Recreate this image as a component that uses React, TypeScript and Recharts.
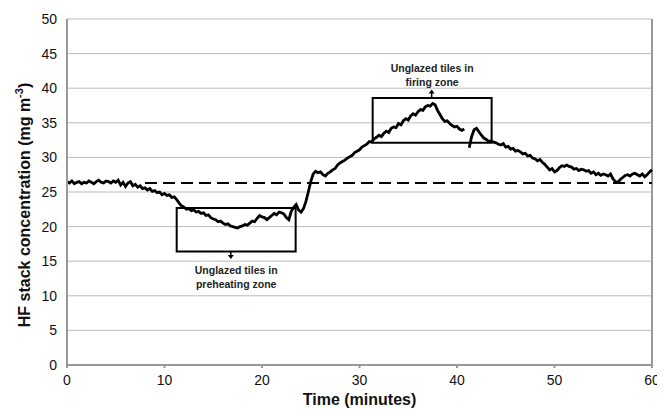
import { CartesianGrid, Label, Line, LineChart, ReferenceArea, ReferenceLine, XAxis, YAxis } from 'recharts';

// HF stack concentration trace: [minutes, mg m-3]
const hfTrace: [number, number | null][] = [
  [0, 26.5], [0.25, 26.3], [0.5, 26.6], [0.75, 26.2], [1, 26.4], [1.25, 26.5], [1.5, 26.2], [1.75, 26.4],
  [2, 26.3], [2.25, 26.6], [2.5, 26.4], [2.75, 26.2], [3, 26.5], [3.25, 26.7], [3.5, 26.4], [3.75, 26.3],
  [4, 26.6], [4.25, 26.5], [4.5, 26.3], [4.75, 26.6], [5, 26.4], [5.25, 26.7], [5.5, 26.0], [5.75, 26.4],
  [6, 25.8], [6.25, 26.3], [6.5, 26.5], [6.75, 25.9], [7, 26.1], [7.25, 25.7], [7.5, 25.9], [7.75, 25.5],
  [8, 25.6], [8.25, 25.3], [8.5, 25.5], [8.75, 25.1], [9, 25.2], [9.25, 24.9], [9.5, 25.0], [9.75, 24.6],
  [10, 24.8], [10.25, 24.5], [10.5, 24.6], [10.75, 24.2], [11, 24.3], [11.25, 23.9], [11.5, 23.4], [11.75, 23.0],
  [12, 22.8], [12.25, 22.5], [12.5, 22.6], [12.75, 22.3], [13, 22.4], [13.25, 22.1], [13.5, 22.2], [13.75, 21.9],
  [14, 22.0], [14.25, 21.6], [14.5, 21.7], [14.75, 21.3], [15, 21.1], [15.25, 21.0], [15.5, 20.7], [15.75, 20.8],
  [16, 20.5], [16.25, 20.3], [16.5, 20.4], [16.75, 20.1], [17, 20.0], [17.25, 19.9], [17.5, 19.8], [17.75, 20.0],
  [18, 20.1], [18.25, 20.3], [18.5, 20.2], [18.75, 20.5], [19, 20.8], [19.25, 20.7], [19.5, 21.2], [19.75, 21.6],
  [20, 21.4], [20.25, 21.3], [20.5, 21.0], [20.75, 21.3], [21, 21.6], [21.25, 21.9], [21.5, 21.7], [21.75, 22.1],
  [22, 22.0], [22.25, 21.8], [22.5, 21.3], [22.75, 21.0], [23, 22.2], [23.25, 22.8], [23.5, 23.2], [23.75, 22.4],
  [24, 22.1], [24.25, 22.6], [24.5, 23.6], [24.75, 25.0], [25, 26.5], [25.25, 27.6], [25.5, 28.0], [25.75, 27.8],
  [26, 27.9], [26.25, 27.5], [26.5, 27.3], [26.75, 27.7], [27, 27.9], [27.25, 28.2], [27.5, 28.4], [27.75, 28.9],
  [28, 29.2], [28.25, 29.4], [28.5, 29.6], [28.75, 29.9], [29, 30.1], [29.25, 30.3], [29.5, 30.7], [29.75, 30.9],
  [30, 31.1], [30.25, 31.5], [30.5, 31.7], [30.75, 31.9], [31, 32.3], [31.25, 32.2], [31.5, 32.7], [31.75, 32.9],
  [32, 33.2], [32.25, 33.0], [32.5, 33.5], [32.75, 33.8], [33, 33.6], [33.25, 34.2], [33.5, 34.4], [33.75, 34.3],
  [34, 34.9], [34.25, 34.7], [34.5, 35.3], [34.75, 35.6], [35, 35.4], [35.25, 36.0], [35.5, 36.3], [35.75, 36.1],
  [36, 36.6], [36.25, 36.9], [36.5, 36.8], [36.75, 37.3], [37, 37.5], [37.25, 37.4], [37.5, 37.8], [37.75, 37.6],
  [38, 36.8], [38.25, 36.2], [38.5, 35.6], [38.75, 35.2], [39, 35.3], [39.25, 34.9], [39.5, 34.6], [39.75, 34.4],
  [40, 34.5], [40.25, 34.1], [40.5, 33.9], [40.75, 34.1], [41, null], [41.25, 31.4], [41.5, 33.0], [41.75, 34.0],
  [42, 34.2], [42.25, 33.7], [42.5, 33.2], [42.75, 32.8], [43, 32.6], [43.25, 32.3], [43.5, 32.4], [43.75, 32.2],
  [44, 32.1], [44.25, 31.9], [44.5, 31.8], [44.75, 32.0], [45, 31.5], [45.25, 31.6], [45.5, 31.2], [45.75, 31.3],
  [46, 30.9], [46.25, 31.0], [46.5, 30.8], [46.75, 30.5], [47, 30.6], [47.25, 30.2], [47.5, 30.3], [47.75, 29.9],
  [48, 29.8], [48.25, 29.5], [48.5, 29.7], [48.75, 29.3], [49, 29.0], [49.25, 28.6], [49.5, 28.2], [49.75, 28.4],
  [50, 27.9], [50.25, 28.1], [50.5, 28.5], [50.75, 28.8], [51, 28.7], [51.25, 28.9], [51.5, 28.7], [51.75, 28.6],
  [52, 28.3], [52.25, 28.4], [52.5, 28.1], [52.75, 28.3], [53, 28.2], [53.25, 28.0], [53.5, 28.1], [53.75, 27.7],
  [54, 27.9], [54.25, 27.5], [54.5, 27.7], [54.75, 27.4], [55, 27.6], [55.25, 27.5], [55.5, 27.3], [55.75, 27.6],
  [56, 26.9], [56.25, 26.5], [56.5, 26.4], [56.75, 26.8], [57, 27.1], [57.25, 27.4], [57.5, 27.5], [57.75, 27.3],
  [58, 27.6], [58.25, 27.7], [58.5, 27.5], [58.75, 27.3], [59, 27.6], [59.25, 27.2], [59.5, 27.5], [59.75, 27.9],
  [60, 28.2],
];

const xTicks = [0, 10, 20, 30, 40, 50, 60];
const yTicks = [0, 5, 10, 15, 20, 25, 30, 35, 40, 45, 50];

// dashed background level and the two annotated windows
const backgroundLevel = 26.3;
const backgroundFrom = 8;
const preheatBox = { x1: 11.25, x2: 23.45, y1: 16.4, y2: 22.7 };
const firingBox = { x1: 31.35, x2: 43.55, y1: 32.1, y2: 38.6 };
const preheatArrow = { x: 16.8, from: 16.4, to: 15.3 };
const firingArrow = { x: 37.4, from: 38.6, to: 39.8 };
const preheatText = ['Unglazed tiles in', 'preheating zone'];
const firingText = ['Unglazed tiles in', 'firing zone'];

const data = hfTrace.map(([t, v]) => ({ t, hf: v }));

const FONT = '"Liberation Sans", Arial, sans-serif';

const Arrow = (props: any) => {
  const { x1, y1, x2, y2 } = props;
  const dir = y2 > y1 ? 1 : -1;
  return (
    <g>
      <line x1={x1} y1={y1} x2={x2} y2={y2 - dir * 3} stroke="#000" strokeWidth={1.5} />
      <polygon points={`${x2 - 3},${y2 - dir * 4} ${x2 + 3},${y2 - dir * 4} ${x2},${y2}`} fill="#000" />
    </g>
  );
};

const noteLabel = (lines: string[], below: boolean) => (props: any) => {
  const { x, y, width, height } = props.viewBox;
  const cx = x + width / 2;
  const startY = below ? y + height + 22 : y - 26;
  return (
    <text x={cx} y={startY} textAnchor="middle" fontFamily={FONT} fontSize={10.5} fontWeight="bold" fill="#222">
      {lines.map((l, i) => (
        <tspan key={i} x={cx} dy={i === 0 ? 0 : 14}>
          {l}
        </tspan>
      ))}
    </text>
  );
};

const YTitle = (props: any) => {
  const { x, y, height } = props.viewBox;
  const tx = x + 22;
  const ty = y + height / 2 + 13;
  return (
    <text
      x={tx}
      y={ty}
      transform={`rotate(-90 ${tx} ${ty})`}
      textAnchor="middle"
      fontFamily={FONT}
      fontSize={16}
      fontWeight="bold"
      fill="#111"
    >
      HF stack concentration (mg m
      <tspan dy={-7} fontSize={11}>-3</tspan>
      <tspan dy={7}>)</tspan>
    </text>
  );
};

export default function App() {
  return (
    <LineChart width={657} height={401} data={data} margin={{ top: 11, right: 13, left: 0, bottom: 0 }}>
      <CartesianGrid vertical={false} stroke="#bbb" strokeWidth={1} />
      <XAxis
        dataKey="t"
        type="number"
        domain={[0, 60]}
        ticks={xTicks}
        height={44}
        stroke="#999"
        strokeWidth={2}
        tickSize={3}
        tickMargin={7}
        tick={{ fill: '#111', fontSize: 14, fontFamily: FONT }}
      >
        <Label
          value="Time (minutes)"
          position="insideBottom"
          offset={4}
          style={{ fontFamily: FONT, fontSize: 16, fontWeight: 'bold', fill: '#111' }}
        />
      </XAxis>
      <YAxis
        type="number"
        domain={[0, 50]}
        ticks={yTicks}
        width={59}
        stroke="#999"
        strokeWidth={2}
        tickLine={false}
        tickMargin={4}
        interval={0}
        tick={{ fill: '#111', fontSize: 14, fontFamily: FONT }}
      >
        <Label content={YTitle} />
      </YAxis>
      <ReferenceLine x={60} stroke="#999" strokeWidth={2} />
      <ReferenceLine
        segment={[
          { x: backgroundFrom, y: backgroundLevel },
          { x: 60, y: backgroundLevel },
        ]}
        stroke="#000"
        strokeWidth={2}
        strokeDasharray="12 6"
      />
      <ReferenceArea {...preheatBox} fill="none" stroke="#000" strokeWidth={2} fillOpacity={0}>
        <Label content={noteLabel(preheatText, true)} />
      </ReferenceArea>
      <ReferenceArea {...firingBox} fill="none" stroke="#000" strokeWidth={2} fillOpacity={0}>
        <Label content={noteLabel(firingText, false)} />
      </ReferenceArea>
      <ReferenceLine
        segment={[
          { x: preheatArrow.x, y: preheatArrow.from },
          { x: preheatArrow.x, y: preheatArrow.to },
        ]}
        shape={Arrow}
      />
      <ReferenceLine
        segment={[
          { x: firingArrow.x, y: firingArrow.from },
          { x: firingArrow.x, y: firingArrow.to },
        ]}
        shape={Arrow}
      />
      <Line
        type="linear"
        dataKey="hf"
        stroke="#000"
        strokeWidth={2.8}
        dot={false}
        connectNulls={false}
        isAnimationActive={false}
      />
    </LineChart>
  );
}
